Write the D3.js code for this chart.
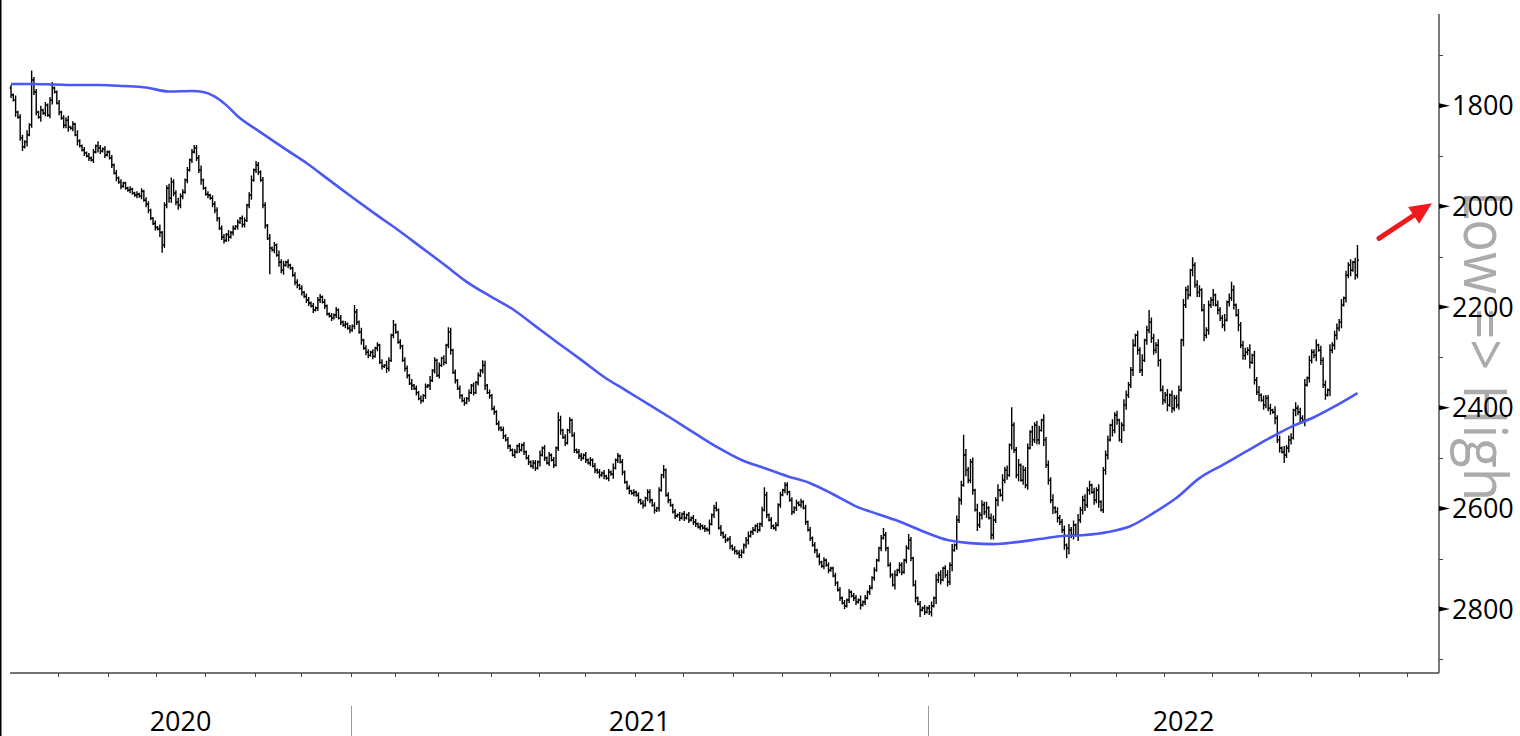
<!DOCTYPE html>
<html>
<head>
<meta charset="utf-8">
<script src="https://cdn.jsdelivr.net/npm/d3@7"></script>
<style>
  body { margin: 0; background: #fff; }
  svg { display: block; }
</style>
</head>
<body>
<div id="chart"></div>
<script>
// daily bars, inverted scale (Low => High)
var monthDays = [21,22,21,21,22,20,22, 19,19,23,21,20,22,21,22,21,21,21,22, 20,19,23,20,21,21,20,23,21,21];
var years = ["2020", "2021", "2022"];
var yearMonths = [7, 12, 10];   // months of each year on the axis

var firstOpen = 1765;
var closes2020 = [1779,1789,1813,1823,1864,1882,1872,1858,1838,
  1749,1773,1813,1823,1809,1815,1799,1819,1789,1765,
  1773,1795,1813,1825,1839,1829,1843,1845,1837,1858,
  1870,1880,1888,1894,1900,1904,1908,1892,1880,1884,
  1890,1886,1898,1892,1904,1918,1934,1944,1952,1960,
  1954,1964,1968,1966,1974,1978,1976,1980,1970,1988,
  1996,2008,2024,2034,2042,2045,2052,2077,1998,1964,
  1984,1952,1974,1992,1998,1980,1972,1948,1928,1908,
  1892,1884,1904,1928,1948,1964,1976,1978,1984,1996,
  2008,2024,2044,2061,2068,2056,2061,2052,2044,2040,
  2032,2024,2036,2028,1998,1978,1948,1928,1918,1932,
  1948,1998,2038,2064,2083,2087,2077,2097,2111,2127,
  2117,2111,2117,2123,2137,2151,2157,2163,2171,2179,
  2186,2192,2198,2206,2202,2186,2180,2190,2198,2214,
  2218,2222,2216,2206,2222,2230,2236,2234,2242,2246];
var closes2021 = [2238,2210,2230,2250,2266,2282,2290,2296,2290,2298,
  2282,2276,2310,2318,2316,2322,2306,2256,2236,2250,
  2270,2278,2306,2322,2336,2352,2356,2362,2370,2382,
  2386,2376,2358,2356,2346,2326,2306,2336,2316,2302,
  2310,2276,2250,2286,2330,2346,2362,2376,2386,2390,
  2382,2370,2356,2370,2350,2336,2326,2316,2356,2370,
  2376,2402,2408,2432,2440,2444,2456,2464,2476,2484,
  2494,2488,2476,2484,2474,2488,2500,2508,2516,2510,
  2520,2508,2494,2480,2500,2510,2494,2504,2514,2480,
  2425,2445,2459,2470,2445,2425,2455,2484,2488,2496,
  2500,2494,2504,2510,2504,2516,2524,2528,2534,2530,
  2536,2540,2528,2532,2520,2504,2496,2508,2528,2548,
  2560,2566,2570,2568,2574,2584,2590,2594,2580,2568,
  2584,2594,2604,2600,2564,2534,2524,2574,2584,2594,
  2607,2615,2613,2619,2611,2619,2613,2623,2619,2627,
  2631,2637,2635,2639,2641,2643,2631,2613,2599,2603,
  2639,2649,2657,2663,2661,2675,2681,2685,2689,2693,
  2687,2673,2663,2655,2647,2643,2635,2643,2631,2603,
  2573,2613,2623,2635,2639,2633,2593,2573,2564,2554,
  2568,2584,2607,2599,2589,2593,2587,2599,2627,2643,
  2659,2673,2683,2695,2707,2715,2703,2713,2723,2719,
  2734,2748,2762,2778,2788,2794,2782,2766,2774,2778,
  2786,2782,2792,2786,2778,2766,2758,2738,2723,2703,
  2679,2659,2653,2679,2713,2732,2752,2732,2723,2713,
  2727,2703,2679,2663,2699,2752,2778,2790,2802,2798,
  2806,2798];
var closes2022 = [2806,2794,2778,2742,2732,2742,2719,2732,
  2746,2713,2683,2673,2623,2584,2554,2494,2524,2544,
  2508,2564,2603,2633,2613,2593,2607,2599,2619,2653,
  2623,2584,2564,2574,2544,2524,2534,2474,2435,2484,
  2534,2514,2544,2524,2554,2480,2448,2464,2435,2464,
  2445,2425,2464,2514,2544,2584,2599,2607,2619,2627,
  2643,2673,2679,2643,2653,2633,2653,2623,2603,2584,
  2593,2564,2554,2568,2584,2564,2587,2603,2524,2494,
  2464,2435,2445,2415,2425,2464,2435,2395,2375,2355,
  2325,2276,2256,2286,2325,2306,2266,2246,2230,2262,
  2286,2276,2306,2365,2385,2375,2395,2375,2401,2381,
  2395,2365,2266,2196,2166,2176,2127,2117,2156,2171,
  2166,2206,2256,2246,2196,2186,2176,2196,2206,2222,
  2236,2226,2190,2182,2166,2196,2216,2236,2276,2296,
  2290,2286,2310,2296,2345,2369,2375,2385,2395,2381,
  2401,2405,2409,2421,2464,2480,2488,2494,2480,2464,
  2460,2405,2401,2409,2421,2425,2355,2341,2306,2290,
  2296,2276,2286,2306,2355,2375,2365,2286,2276,2256,
  2242,2230,2196,2182,2137,2117,2127,2111,2137,2107];

// extra range of each bar beyond open/close, in steps of 3 points
var wicks2020 = "2131221312 2213121231 1212231213 1121212132 1211212121 1121121212 2112131223 3223221212 1223112122 2122131212 1221231221 2213121323 1211221212 2121221211 212121212";
var wicks2021 = "1221312212 1212132121 1212213121 2121312121 2123121212 1212121231 2121212121 1212121212 2131212121 2312121212 2121212121 2121312121 1212121212 2121212121 1212121212 2121213121 1212121212 2123121212 1212121212 2121212121 2121212121 1212121212 2131212121 1212121312 2121213121 21";
var wicks2022 = "23142312 3241323142 2314232413 3241423132 2413231423 3142324132 2314231423 4231324123 3142312432 2413241323 3241324132 2314231423 3142324132 2413231423 3241324132 2314231423 3142324132 2413231423 3241324132";

// intraday extremes [bar, price]
var extremes = [[5,1890],[9,1730],[18,1753],[66,2092],[80,1878],[107,1910],[113,2135],
  [150,2196],[167,2226],[191,2240],[206,2306],[239,2409],[265,2490],[285,2514],
  [308,2587],[329,2558],[381,2639],[392,2651],[397,2816],[416,2454],[437,2399],
  [461,2699],[497,2206],[516,2101],[533,2150],[556,2510],[588,2077]];

// moving average, read at bars
var maIdx = [0,9,19,29,39,49,59,69,79,84,89,94,99,
  109,119,129,139,149,159,169,179,189,199,209,219,229,239,249,259,269,279,289,299,
  309,319,329,339,349,359,369,379,389,399,409,419,429,439,449,459,469,479,489,499,
  509,519,529,539,549,559,569,579,588];
var maVal = [1757,1757,1758,1759,1759,1761,1764,1772,1771,1773,1782,1799,1821,
  1853,1884,1914,1948,1982,2015,2047,2081,2115,2150,2178,2204,2238,2272,2305,2339,2367,2395,2423,2452,
  2480,2504,2520,2536,2550,2572,2596,2612,2628,2647,2663,2669,2671,2667,2661,2655,2653,2647,2635,2609,
  2579,2540,2514,2488,2462,2438,2419,2395,2371];

var yTicks = [1800, 2000, 2200, 2400, 2600, 2800];
var yMinor = [1700, 1900, 2100, 2300, 2500, 2700, 2900];

var width = 1520, height = 736;
var plotLeft = 10, plotRight = 1439, plotTop = 14, plotBottom = 673;

var svg = d3.select("#chart")
  .append("svg")
    .attr("width", width)
    .attr("height", height);

var x = d3.scaleLinear().domain([-0.45, 623.6]).range([plotLeft, plotRight]);
var y = d3.scaleLinear().domain([1618, 2927]).range([plotTop, plotBottom]);

// left frame edge
svg.append("rect")
  .attr("x", 0).attr("y", 0).attr("width", 1.5).attr("height", height)
  .attr("fill", "#000");

// gray label behind the axis text
svg.append("text")
  .attr("transform", "translate(1464,191) rotate(90)")
  .style("font-family", "'Open Sans', 'Noto Sans', sans-serif")
  .style("font-size", "60px")
  .attr("fill", "#a2a2a2")
  .attr("opacity", 0.9)
  .attr("textLength", 310)
  .attr("lengthAdjust", "spacingAndGlyphs")
  .text("Low => High");

// bars
var closes = closes2020.concat(closes2021, closes2022);
var wickStr = (wicks2020 + wicks2021 + wicks2022).replace(/\s/g, "");
var extremeMap = new Map(extremes);

var bars = closes.map(function(c, i) {
  var o = i === 0 ? firstOpen : closes[i - 1];
  var w = (+wickStr[i] || 1) * 3;
  var lo = Math.min(o, c) - w, hi = Math.max(o, c) + w;
  if (extremeMap.has(i)) {
    var e = extremeMap.get(i);
    lo = Math.min(lo, e); hi = Math.max(hi, e);
  }
  return {i: i, open: o, close: c, lo: lo, hi: hi};
});

svg.append("g")
  .selectAll("path")
  .data(bars)
  .enter()
  .append("path")
    .attr("d", function(d) {
      var cx = x(d.i);
      return "M" + (cx - 1.4) + "," + y(d.open) + "H" + cx +
             "M" + cx + "," + y(d.lo) + "V" + y(d.hi) +
             "M" + cx + "," + y(d.close) + "H" + (cx + 1.4);
    })
    .attr("fill", "none")
    .attr("stroke", "#000")
    .attr("stroke-width", 1.4);

// moving average
var maLine = d3.line()
  .x(function(d) { return x(d[0]); })
  .y(function(d) { return y(d[1]); })
  .curve(d3.curveMonotoneX);

svg.append("path")
  .datum(d3.zip(maIdx, maVal))
  .attr("d", maLine)
  .attr("fill", "none")
  .attr("stroke", "#4a58f5")
  .attr("stroke-width", 2.6);

// x axis
svg.append("line")
  .attr("x1", plotLeft).attr("x2", plotRight).attr("y1", plotBottom).attr("y2", plotBottom)
  .attr("stroke", "#444").attr("stroke-width", 1.4);

var bounds = Array.from(d3.cumsum(monthDays), function(s) { return s - 0.5; });
svg.append("g")
  .selectAll("line")
  .data(bounds)
  .enter()
  .append("line")
    .attr("x1", function(d) { return Math.round(x(d)) + 0.5; })
    .attr("x2", function(d) { return Math.round(x(d)) + 0.5; })
    .attr("y1", plotBottom)
    .attr("y2", plotBottom + 4)
    .attr("stroke", "#444");

var yearEnds = Array.from(d3.cumsum(yearMonths), function(m) { return bounds[m - 1]; });
// separators between years
svg.append("g")
  .selectAll("line")
  .data(yearEnds.slice(0, 2))
  .enter()
  .append("line")
    .attr("x1", function(d) { return Math.round(x(d)) + 0.5; })
    .attr("x2", function(d) { return Math.round(x(d)) + 0.5; })
    .attr("y1", 706).attr("y2", height)
    .attr("stroke", "#999");

svg.append("g")
  .selectAll("text")
  .data(years)
  .enter()
  .append("text")
    .attr("x", function(d, i) {
      var a = i === 0 ? plotLeft : x(yearEnds[i - 1]);
      var b = i === 2 ? plotRight : x(yearEnds[i]);
      return (a + b) / 2;
    })
    .attr("y", 731)
    .attr("text-anchor", "middle")
    .style("font-family", "'Open Sans', 'Noto Sans', sans-serif")
    .style("font-size", "27px")
    .attr("fill", "#000")
    .text(function(d) { return d; });

// y axis on the right
svg.append("line")
  .attr("x1", plotRight).attr("x2", plotRight).attr("y1", plotTop).attr("y2", plotBottom)
  .attr("stroke", "#444").attr("stroke-width", 1.4);

svg.append("g")
  .selectAll("line")
  .data(yMinor)
  .enter()
  .append("line")
    .attr("x1", plotRight).attr("x2", plotRight + 4)
    .attr("y1", function(d) { return Math.round(y(d)) + 0.5; })
    .attr("y2", function(d) { return Math.round(y(d)) + 0.5; })
    .attr("stroke", "#444");

var yt = svg.append("g")
  .selectAll("g")
  .data(yTicks)
  .enter()
  .append("g")
    .attr("transform", function(d) { return "translate(" + plotRight + "," + y(d) + ")"; });

yt.append("path")
  .attr("d", "M0,-2.5L11,0L0,2.5Z")
  .attr("fill", "#000");

yt.append("text")
  .attr("x", 13)
  .attr("dy", "0.36em")
  .style("font-family", "'Open Sans', 'Noto Sans', sans-serif")
  .style("font-size", "27px")
  .attr("fill", "#000")
  .text(function(d) { return d; });

// red arrow pointing at 2000
var tipX = 1432, tipY = y(2000) - 3;
var tailX = 1379, tailY = tipY + 35;
var ang = Math.atan2(tipY - tailY, tipX - tailX);
var hl = 22, hw = 10;
var bx = tipX - hl * Math.cos(ang), by = tipY - hl * Math.sin(ang);
svg.append("line")
  .attr("x1", tailX).attr("y1", tailY).attr("x2", bx + 3 * Math.cos(ang)).attr("y2", by + 3 * Math.sin(ang))
  .attr("stroke", "#f0191c").attr("stroke-width", 5).attr("stroke-linecap", "round");
svg.append("path")
  .attr("d", "M" + tipX + "," + tipY +
             "L" + (bx + hw * Math.sin(ang)) + "," + (by - hw * Math.cos(ang)) +
             "L" + (bx - hw * Math.sin(ang)) + "," + (by + hw * Math.cos(ang)) + "Z")
  .attr("fill", "#f0191c");
</script>
</body>
</html>
